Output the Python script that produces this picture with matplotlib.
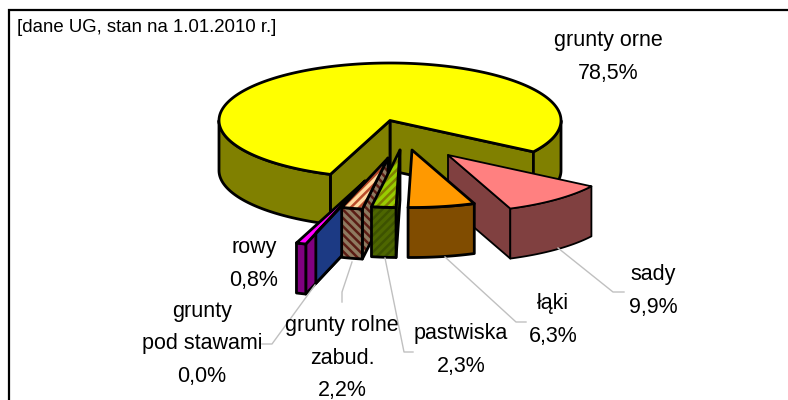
import numpy as np
import matplotlib
matplotlib.use('Agg')
import matplotlib.pyplot as plt
from matplotlib.patches import Polygon

plt.rcParams['font.family'] = ['Liberation Sans', 'DejaVu Sans']
plt.rcParams['hatch.linewidth'] = 1.8

categories = ['grunty orne', 'sady', 'łąki', 'pastwiska', 'grunty rolne\nzabud.', 'grunty\npod stawami', 'rowy']
values = [78.5, 9.9, 6.3, 2.3, 2.2, 0.0, 0.8]
note = '[dane UG, stan na 1.01.2010 r.]'

# pie geometry, in picture pixels
cx, cy = 390, 120.5
rx, ry = 171, 57.5
depth = 50
start_angle = 110.4

# explosion of each slice and size factor
explode_x = [0, 58, 22, 10, -2, -25, -25]
explode_y = [0, 34.5, 29.5, 29.5, 37.5, 60.5, 60.5]
scale = [1, 1, 1, 1, 0.9, 0.955, 1.15]

top_colors = ['#FFFF00', '#FF8080', '#FF9900', '#99CC00', '#FFD9A0', '#1C3A84', '#FF00FF']
side_colors = ['#808000', '#804040', '#804C00', '#4D6600', '#8F7A60', '#1C3A84', '#800080']
top_hatch = [None, None, None, '#808000', '#B84A2A', None, None]
side_hatch = [None, None, None, '#3D5200', '#5A1C14', None, None]
top_pattern = '////'
side_pattern = [None, None, None, '////', '\\\\\\\\', None, None]
edge_width = [2, 1.3, 2, 2, 2, 2, 2]

# drawn back to front
draw_order = [0, 1, 2, 6, 5, 4, 3]

text_x = [608, 653, 553, 461, 342, 202, 254]
text_y = [57, 291, 320, 350, 358, 344, 264]

leaders = [
    None,
    ([558, 613, 624], [248, 292, 292]),
    ([445, 516, 526], [257, 322, 322]),
    ([385, 404, 413], [258, 352, 352]),
    ([352, 342, 342], [262, 292, 302]),
    ([315, 272, 262], [285, 344, 344]),
    None,
]


def arc(t0, t1, x0, y0, k):
    t = np.radians(np.linspace(t0, t1, max(int(abs(t1 - t0)) + 2, 2)))
    return x0 + k * rx * np.cos(t), y0 + k * ry * np.sin(t)


def face(ax, xs, ys, color, hatch, pattern, lw):
    pts = np.column_stack([xs, ys])
    if hatch is None:
        ax.add_patch(Polygon(pts, closed=True, facecolor=color, edgecolor='none'))
    else:
        ax.add_patch(Polygon(pts, closed=True, facecolor=color, edgecolor=hatch, hatch=pattern, linewidth=0))
    ax.add_patch(Polygon(pts, closed=True, fill=False, edgecolor='black', linewidth=lw, joinstyle='round'))


def draw_slice(ax, i, t0, t1):
    x0 = cx + explode_x[i]
    y0 = cy + explode_y[i]
    k = scale[i]
    lw = edge_width[i]
    side = side_colors[i]
    sh = side_hatch[i]
    sp = side_pattern[i]

    # radial walls that face the viewer
    if t1 % 360 < 90:
        ex, ey = arc(t1, t1, x0, y0, k)
        face(ax, [x0, ex[0], ex[0], x0], [y0, ey[0], ey[0] + depth, y0 + depth], side, sh, sp, lw)
    if t0 % 360 > 90:
        ex, ey = arc(t0, t0, x0, y0, k)
        face(ax, [x0, ex[0], ex[0], x0], [y0, ey[0], ey[0] + depth, y0 + depth], side, sh, sp, lw)

    # outer wall, only the front half of the ellipse shows
    for lo, hi in [(0, 180), (360, 540)]:
        a, b = max(t0, lo), min(t1, hi)
        if b > a:
            ax_, ay_ = arc(a, b, x0, y0, k)
            face(ax, np.r_[ax_, ax_[::-1]], np.r_[ay_, ay_[::-1] + depth], side, sh, sp, lw)

    # top
    tx, ty = arc(t0, t1, x0, y0, k)
    face(ax, np.r_[x0, tx], np.r_[y0, ty], top_colors[i], top_hatch[i], top_pattern, lw)


def main():
    fig = plt.figure(figsize=(7.88, 4.0), dpi=100)
    ax = fig.add_axes([0, 0, 1, 1])
    ax.set_xlim(0, 788)
    ax.set_ylim(400, 0)
    ax.axis('off')

    ax.plot([9.5, 9.5, 788], [400, 9.5, 9.5], color='black', lw=1.6, solid_joinstyle='miter')

    ends = start_angle + np.cumsum(np.array(values) * 3.6)
    starts = ends - np.array(values) * 3.6
    for i in draw_order:
        draw_slice(ax, i, starts[i], ends[i])

    for line in leaders:
        if line is not None:
            ax.plot(line[0], line[1], color='#C0C0C0', lw=1)

    for i, name in enumerate(categories):
        label = name + '\n' + f'{values[i]:.1f}%'.replace('.', ',')
        ax.text(text_x[i], text_y[i], label, ha='center', va='center', fontsize=15.5,
                linespacing=1.7, color='black')

    ax.text(17, 28, note, ha='left', va='center', fontsize=13.4, color='black')

    fig.savefig('out.png', dpi=100)


if __name__ == '__main__':
    main()
